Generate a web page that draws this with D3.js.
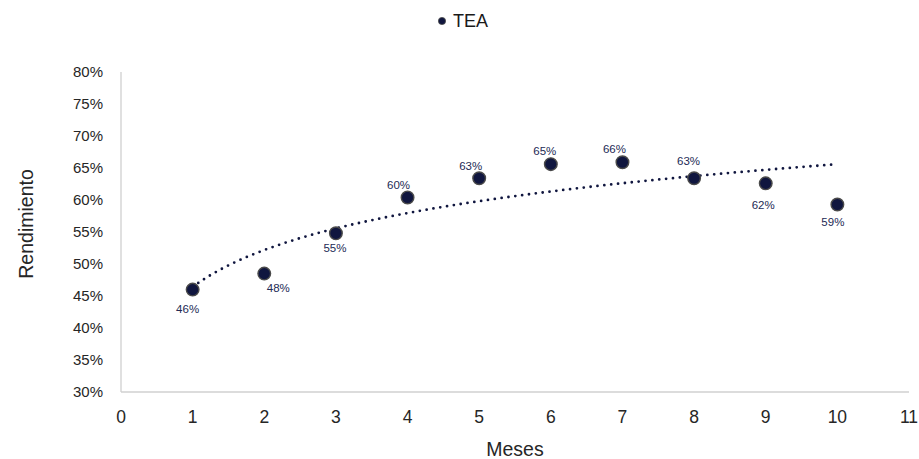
<!DOCTYPE html>
<html><head><meta charset="utf-8">
<script src="https://cdn.jsdelivr.net/npm/d3@7"></script>
<style>body{margin:0;background:#fff}svg{display:block}text{font-family:"Liberation Sans",Arial,sans-serif}</style>
</head><body><svg id="c" width="919" height="459"></svg>
<script>
const months = [1,2,3,4,5,6,7,8,9,10];
const tea = [0.460,0.485,0.548,0.604,0.634,0.656,0.659,0.634,0.626,0.593];
const labels = ["46%","48%","55%","60%","63%","65%","66%","63%","62%","59%"];
const xTicks = [0,1,2,3,4,5,6,7,8,9,10,11];
const yTicks = [0.30,0.35,0.40,0.45,0.50,0.55,0.60,0.65,0.70,0.75,0.80];
const seriesName = "TEA";

// label placement offsets (style, not data)
const labelOff = [[-5,19],[14,14],[-1,15],[-9,-12],[-8.5,-12],[-6,-13],[-8,-13],[-5.5,-17.5],[-2.5,22],[-4.5,17.5]];

const svg = d3.select("#c");
const x = d3.scaleLinear().domain([0,11]).range([121,909]);
const y = d3.scaleLinear().domain([0.30,0.80]).range([392,72]);
const navy = "#10163f";

// axes lines
svg.append("line").attr("x1",x(0)).attr("x2",x(11)).attr("y1",y(0.30)).attr("y2",y(0.30)).attr("stroke","#d0d0d0").attr("stroke-width",1.3);
svg.append("line").attr("x1",x(0)).attr("x2",x(0)).attr("y1",y(0.30)).attr("y2",y(0.80)).attr("stroke","#d0d0d0").attr("stroke-width",1.3);

// tick labels
svg.append("g").selectAll("text").data(yTicks).join("text")
  .attr("x",103).attr("y",d=>y(d)).attr("dy","0.35em").attr("text-anchor","end")
  .attr("font-size",15).attr("fill","#262626").text(d3.format(".0%"));
svg.append("g").selectAll("text").data(xTicks).join("text")
  .attr("x",d=>x(d)).attr("y",423).attr("text-anchor","middle")
  .attr("font-size",17.5).attr("fill","#262626").text(d=>d);

// axis titles
svg.append("text").attr("x",x(5.5)).attr("y",456).attr("text-anchor","middle")
  .attr("font-size",19.5).attr("fill","#262626").text("Meses");
svg.append("text").attr("transform","translate(33,224) rotate(-90)").attr("text-anchor","middle")
  .attr("font-size",19.5).attr("fill","#262626").text("Rendimiento");

// logarithmic trendline fitted from data
const lx = months.map(Math.log);
const mx = d3.mean(lx), my = d3.mean(tea);
const b = d3.sum(lx.map((v,i)=>(v-mx)*(tea[i]-my))) / d3.sum(lx.map(v=>(v-mx)*(v-mx)));
const a = my - b*mx;
const trend = d3.range(0,91).map(i=>{const t=months[0]+i*(months[months.length-1]-months[0])/90; return [t,a+b*Math.log(t)];});
svg.append("path").datum(trend)
  .attr("d",d3.line().x(d=>x(d[0])).y(d=>y(d[1])).curve(d3.curveMonotoneX))
  .attr("fill","none").attr("stroke",navy).attr("stroke-width",2.8)
  .attr("stroke-linecap","round").attr("stroke-dasharray","0 6.9");

// points
svg.append("g").selectAll("circle").data(months).join("circle")
  .attr("cx",d=>x(d)).attr("cy",(d,i)=>y(tea[i])).attr("r",6.3)
  .attr("fill",navy).attr("stroke","#4a4a4a").attr("stroke-width",1.4);

// data labels
svg.append("g").selectAll("text").data(months).join("text")
  .attr("x",(d,i)=>x(d)+labelOff[i][0]).attr("y",(d,i)=>y(tea[i])+labelOff[i][1]).attr("dy","0.35em")
  .attr("text-anchor","middle").attr("font-size",11.5).attr("fill","#232a55").text((d,i)=>labels[i]);

// legend
svg.append("circle").attr("cx",442).attr("cy",21).attr("r",3.6).attr("fill",navy).attr("stroke","#4a4a4a").attr("stroke-width",0.8);
svg.append("text").attr("x",453).attr("y",26.5).attr("font-size",18).attr("fill","#1a1a1a").text(seriesName);
</script></body></html>
